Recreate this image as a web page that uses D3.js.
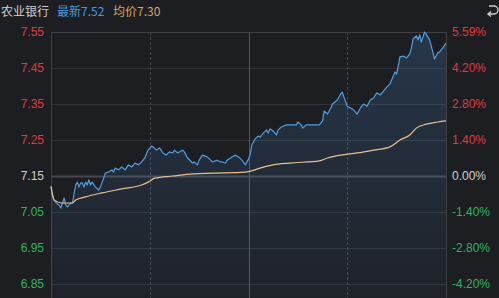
<!DOCTYPE html>
<html><head><meta charset="utf-8">
<script src="https://cdn.jsdelivr.net/npm/d3@7"></script>
<style>html,body{margin:0;padding:0;background:#1d1e22;overflow:hidden}</style>
</head><body><svg id="c" width="499" height="298"></svg>
<script>
const stockName = "农业银行";
const lastPrice = 7.52;
const avgPrice = 7.30;
const prevClose = 7.15;
const leftTicks = [7.55, 7.45, 7.35, 7.25, 7.15, 7.05, 6.95, 6.85];
const rightTickLabels = ["5.59%", "4.20%", "2.80%", "1.40%", "0.00%", "-1.40%", "-2.80%", "-4.20%"];
const priceMinutes = [0,1,2,4,5,6,7,8,9,10,12,13,15,16,17,18,19,20,21,22,23,24,25,27,29,30,32,33,35,37,38,39,41,43,45,47,49,51,53,55,57,59,61,62,64,66,68,70,72,74,75,77,80,81,83,86,87,89,90,92,95,97,98,101,103,104,106,107,110,112,114,116,118,120,
 121,122,124,126,127,129,131,132,133,135,137,138,140,143,147,149,150,152,153,155,159,163,165,166,168,170,171,174,176,177,178,180,182,184,186,188,190,192,194,196,198,200,202,204,206,208,209,210,211,212,214,216,218,219,220,222,223,224,225,227,228,230,232,233,235,236,238,240];
const priceValues = [7.119,7.092,7.081,7.072,7.069,7.061,7.075,7.089,7.069,7.064,7.075,7.075,7.125,7.133,7.119,7.131,7.131,7.119,7.133,7.125,7.139,7.125,7.133,7.119,7.111,7.119,7.144,7.158,7.161,7.167,7.161,7.172,7.167,7.175,7.167,7.181,7.175,7.186,7.181,7.189,7.200,7.222,7.233,7.231,7.222,7.228,7.214,7.208,7.217,7.214,7.222,7.214,7.222,7.217,7.200,7.186,7.189,7.181,7.194,7.208,7.203,7.194,7.189,7.194,7.189,7.189,7.186,7.194,7.203,7.208,7.203,7.194,7.181,7.197,
 7.208,7.236,7.253,7.261,7.258,7.269,7.278,7.269,7.281,7.275,7.264,7.278,7.286,7.292,7.292,7.292,7.300,7.292,7.283,7.292,7.292,7.292,7.303,7.331,7.322,7.339,7.350,7.361,7.378,7.383,7.369,7.344,7.339,7.333,7.322,7.339,7.350,7.344,7.361,7.367,7.381,7.375,7.386,7.397,7.406,7.428,7.439,7.433,7.456,7.481,7.483,7.478,7.489,7.506,7.531,7.539,7.528,7.542,7.522,7.550,7.544,7.528,7.494,7.475,7.492,7.494,7.506,7.519];
const avgMinutes = [0,1,2,7,13,15,21,31,43,55,59,63,74,86,98,118,124,127,135,145,163,168,176,186,196,206,212,218,222,228,235,240];
const avgValues = [7.122,7.097,7.083,7.075,7.075,7.083,7.092,7.103,7.114,7.125,7.133,7.144,7.150,7.156,7.158,7.161,7.167,7.172,7.181,7.186,7.192,7.200,7.208,7.214,7.222,7.231,7.250,7.264,7.283,7.294,7.300,7.303];

const svg = d3.select("#c");
const L = 51, R = 446, T = 32, B = 284;
const x = d3.scaleLinear().domain([0, 240]).range([L, R]);
const y = d3.scaleLinear().domain([6.85, 7.55]).range([B, T]);

// header
const hdr = svg.append("text").attr("y", 16).attr("font-family", "'Noto Sans CJK SC', 'Liberation Sans', sans-serif").attr("font-size", 12);
hdr.append("tspan").attr("x", 1).attr("fill", "#cfcfcf").text(stockName);
hdr.append("tspan").attr("x", 57).attr("fill", "#3d9be9").text("最新" + lastPrice.toFixed(2));
hdr.append("tspan").attr("x", 113).attr("fill", "#d9a55a").text("均价" + avgPrice.toFixed(2));
// return icon
svg.append("path").attr("d", "M489,6 L494,6 A4,4 0 0 1 494,14 L488,14 M491,11.5 L488,14 L491,16.5")
  .attr("fill", "none").attr("stroke", "#d0d0d0").attr("stroke-width", 1.4);

// gridlines
const grid = svg.append("g");
grid.selectAll("line.h").data(leftTicks).join("line")
  .attr("x1", L).attr("x2", R).attr("y1", d => Math.round(y(d)) + 0.5).attr("y2", d => Math.round(y(d)) + 0.5)
  .attr("stroke", d => d === prevClose ? "#48494e" : "#323338").attr("stroke-width", d => d === prevClose ? 2 : 1);
[60, 180].forEach(m => grid.append("line").attr("x1", Math.round(x(m)) + 0.5).attr("x2", Math.round(x(m)) + 0.5)
  .attr("y1", T).attr("y2", 298).attr("stroke", "#46484d").attr("stroke-dasharray", "3,2"));
grid.append("line").attr("x1", Math.round(x(120)) + 0.5).attr("x2", Math.round(x(120)) + 0.5)
  .attr("y1", T).attr("y2", 298).attr("stroke", "#55575c");
grid.append("path").attr("d", `M${L + 0.5},298 V${T + 0.5} H${R + 0.5} V298`).attr("fill", "none").attr("stroke", "#3e4045");

// area
const defs = svg.append("defs");
const g = defs.append("linearGradient").attr("id", "gr").attr("gradientUnits", "userSpaceOnUse")
  .attr("x1", 0).attr("y1", T).attr("x2", 0).attr("y2", 298);
g.append("stop").attr("offset", 0).attr("stop-color", "#4a8fd8").attr("stop-opacity", 0.22);
g.append("stop").attr("offset", 1).attr("stop-color", "#4a8fd8").attr("stop-opacity", 0.04);
const pts = priceMinutes.map((m, i) => [m, priceValues[i]]);
svg.append("path").datum(pts).attr("fill", "url(#gr)")
  .attr("d", d3.area().x(d => x(d[0])).y0(298).y1(d => y(d[1])));
svg.append("path").datum(pts).attr("fill", "none").attr("stroke", "#4e9ee4").attr("stroke-width", 1.2)
  .attr("stroke-linejoin", "round").attr("d", d3.line().x(d => x(d[0])).y(d => y(d[1])));
const apts = avgMinutes.map((m, i) => [m, avgValues[i]]);
svg.append("path").datum(apts).attr("fill", "none").attr("stroke", "#e6c08c").attr("stroke-width", 1.2)
  .attr("d", d3.line().curve(d3.curveMonotoneX).x(d => x(d[0])).y(d => y(d[1])));

// axes
const colorFor = i => leftTicks[i] > prevClose ? "#e0393e" : (leftTicks[i] < prevClose ? "#2db55d" : "#cfcfcf");
const la = svg.append("g").attr("transform", `translate(${L - 4},0)`)
  .call(d3.axisLeft(y).tickValues(leftTicks).tickFormat(d3.format(".2f")).tickSize(0));
la.select(".domain").remove();
la.selectAll("text").attr("font-family", "'Liberation Sans', Arial, sans-serif").attr("font-size", 12)
  .attr("fill", (d, i) => colorFor(i));
const ra = svg.append("g").attr("transform", `translate(${R + 6},0)`)
  .call(d3.axisRight(y).tickValues(leftTicks).tickFormat((d, i) => rightTickLabels[i]).tickSize(0));
ra.select(".domain").remove();
ra.selectAll("text").attr("x", 0).attr("font-family", "'Liberation Sans', Arial, sans-serif").attr("font-size", 12)
  .attr("fill", (d, i) => colorFor(i));
</script></body></html>
